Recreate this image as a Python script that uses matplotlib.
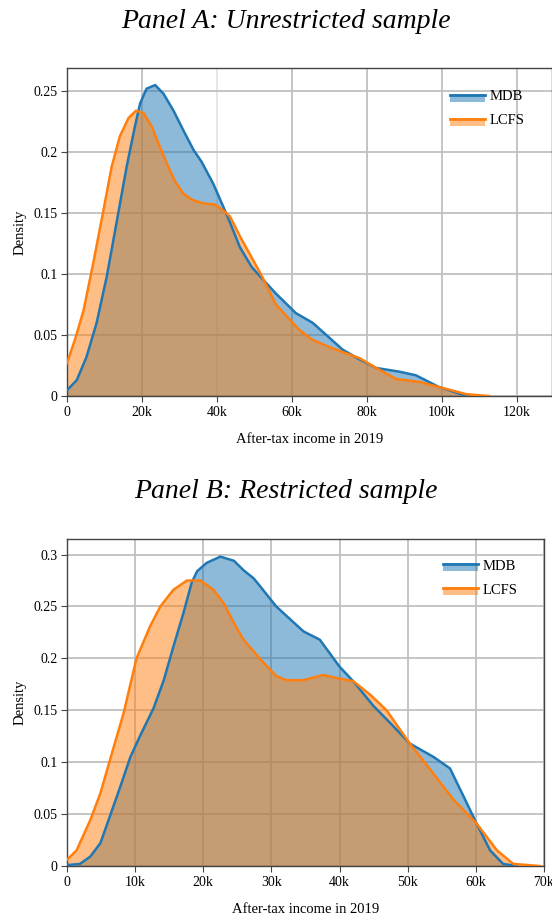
import numpy as np
import matplotlib
matplotlib.use("Agg")
import matplotlib.pyplot as plt
from matplotlib.patches import Patch, Rectangle
from matplotlib.lines import Line2D

plt.rcParams['font.family'] = ['Liberation Serif', 'DejaVu Serif']

BLUE = '#1f77b4'
ORANGE = '#ff7f0e'

# Panel A: unrestricted sample (income in thousands)
a_mdb_x = [0.1, 2.6, 5.2, 7.9, 10.6, 13.2, 15.9, 18.1, 19.5, 21.2, 23.5, 25.7, 28.4, 31,
           33.7, 35.9, 39, 41.7, 43.5, 46.1, 49.2, 51.5, 55.7, 61, 65.5, 69.5, 73.5,
           78, 82.4, 88.5, 93, 99, 105.5, 107]
a_mdb_y = [0.005, 0.013, 0.032, 0.060, 0.098, 0.142, 0.188, 0.221, 0.240, 0.252, 0.255,
           0.248, 0.234, 0.218, 0.202, 0.192, 0.174, 0.155, 0.142, 0.122, 0.106, 0.098,
           0.084, 0.068, 0.060, 0.049, 0.038, 0.030, 0.023, 0.020, 0.017, 0.0076,
           0.001, 0.0]
a_lcfs_x = [0, 2.1, 4.4, 7, 9.7, 11.9, 14.1, 16.4, 18.4, 20.4, 22.6, 24.8, 27, 28.8, 31,
            33.3, 36.3, 39.5, 41.7, 43.5, 46.1, 48.8, 51.5, 55.7, 62, 65.5, 70, 78,
            82.4, 87.7, 94, 99, 106.4, 112.5]
a_lcfs_y = [0.027, 0.046, 0.070, 0.109, 0.152, 0.188, 0.213, 0.228, 0.234, 0.232, 0.221,
            0.204, 0.188, 0.176, 0.166, 0.161, 0.158, 0.157, 0.152, 0.147, 0.131, 0.116,
            0.101, 0.075, 0.054, 0.046, 0.040, 0.031, 0.023, 0.014, 0.0115, 0.0075,
            0.0015, 0.0]

# Panel B: restricted sample
b_mdb_x = [0.2, 1.9, 3.4, 4.9, 6.3, 7.8, 9.3, 10.7, 12.7, 14.2, 15.6, 17.1, 18.3, 19.1,
           20.5, 22.5, 24.5, 25.9, 27.4, 28.4, 30.7, 34.7, 37.1, 40, 42, 45, 47.4, 50.3,
           53.8, 56.2, 58.2, 60.1, 62.1, 64, 66]
b_mdb_y = [0.001, 0.002, 0.009, 0.022, 0.048, 0.076, 0.105, 0.125, 0.152, 0.179, 0.211,
           0.244, 0.273, 0.284, 0.292, 0.298, 0.294, 0.285, 0.277, 0.269, 0.250, 0.226,
           0.218, 0.192, 0.178, 0.154, 0.138, 0.118, 0.105, 0.094, 0.067, 0.041, 0.015,
           0.002, 0.0]
b_lcfs_x = [0, 1.4, 3.4, 4.9, 6.3, 8.3, 10.2, 12.2, 13.7, 15.6, 17.6, 19.6, 21.5, 23,
            24.5, 25.9, 28.4, 30.7, 32.2, 34.7, 37.6, 39.6, 42, 44.5, 46.9, 50.3, 53.3,
            56.7, 60.1, 63.1, 65.5, 69.4]
b_lcfs_y = [0.006, 0.015, 0.044, 0.070, 0.102, 0.147, 0.200, 0.231, 0.250, 0.266, 0.275,
            0.275, 0.266, 0.253, 0.234, 0.218, 0.199, 0.183, 0.179, 0.179, 0.184, 0.181,
            0.178, 0.165, 0.150, 0.118, 0.093, 0.064, 0.041, 0.015, 0.002, 0.0]

a_xticks = [0, 20, 40, 60, 80, 100, 120]
a_yticks = [0, 0.05, 0.1, 0.15, 0.2, 0.25]
b_xticks = [0, 10, 20, 30, 40, 50, 60, 70]
b_yticks = [0, 0.05, 0.1, 0.15, 0.2, 0.25, 0.3]


def fmt_k(v):
    return '0' if v == 0 else f'{v}k'


class FillLineHandler:
    # filled box with the curve colour drawn along its top edge
    def legend_artist(self, legend, orig_handle, fontsize, handlebox):
        x0, y0 = handlebox.xdescent, handlebox.ydescent
        w, h = handlebox.width, handlebox.height
        c = orig_handle.get_facecolor()
        rect = Rectangle((x0, y0 - h * 0.1), w, h * 0.95, facecolor=c, alpha=0.5,
                         lw=0, transform=handlebox.get_transform())
        line = Line2D([x0, x0 + w], [y0 + h * 0.7, y0 + h * 0.7], color=c[:3], lw=2.0,
                      transform=handlebox.get_transform())
        handlebox.add_artist(rect)
        handlebox.add_artist(line)
        return rect


def draw_panel(ax, mdb, lcfs, xticks, yticks, xlim, ylim, leg_anchor):
    for (x, y), c in zip([mdb, lcfs], [BLUE, ORANGE]):
        ax.fill_between(x, 0, y, color=c, alpha=0.5, lw=0, zorder=2)
        ax.plot(x, y, color=c, lw=1.8, zorder=3, solid_joinstyle='round')
    ax.set_xlim(*xlim)
    ax.set_ylim(*ylim)
    ax.set_xticks(xticks)
    ax.set_xticklabels([fmt_k(v) for v in xticks])
    ax.set_yticks(yticks)
    ax.set_yticklabels([f'{v:g}' for v in yticks])
    ax.grid(True, color='#c0c0c0', lw=1.3, zorder=0)
    ax.set_axisbelow(True)
    for s in ax.spines.values():
        s.set_color('#444444')
        s.set_linewidth(1.0)
    ax.tick_params(labelsize=10, length=4, color='#444444', pad=3)
    ax.set_xlabel('After-tax income in 2019', fontsize=10.5, labelpad=10)
    ax.set_ylabel('Density', fontsize=10.5, labelpad=5)
    handles = [Patch(facecolor=BLUE), Patch(facecolor=ORANGE)]
    ax.legend(handles, ['MDB', 'LCFS'], loc='upper left', bbox_to_anchor=leg_anchor,
              frameon=False, fontsize=10.5, handlelength=2.4, handleheight=0.55,
              handletextpad=0.3, labelspacing=0.75, borderpad=0, borderaxespad=0,
              handler_map={Patch: FillLineHandler()})


fig = plt.figure(figsize=(5.52, 9.22), dpi=100)

ax1 = fig.add_axes([67 / 552, 1 - 396 / 922, 485 / 552, 328 / 922])
draw_panel(ax1, (a_mdb_x, a_mdb_y), (a_lcfs_x, a_lcfs_y), a_xticks, a_yticks,
           (0, 129.3), (0, 0.269), (0.79, 0.932))
ax1.get_xgridlines()[2].set_color('#e4e4e4')

ax2 = fig.add_axes([67 / 552, 1 - 866 / 922, 477 / 552, 327 / 922])
draw_panel(ax2, (b_mdb_x, b_mdb_y), (b_lcfs_x, b_lcfs_y), b_xticks, b_yticks,
           (0, 70), (0, 0.315), (0.788, 0.937))

fig.text(0.518, 1 - 22 / 922, 'Panel A: Unrestricted sample', ha='center', va='center',
         fontsize=20, style='italic')
fig.text(0.518, 1 - 492 / 922, 'Panel B: Restricted sample', ha='center', va='center',
         fontsize=20, style='italic')

fig.savefig('out.png', dpi=100)
